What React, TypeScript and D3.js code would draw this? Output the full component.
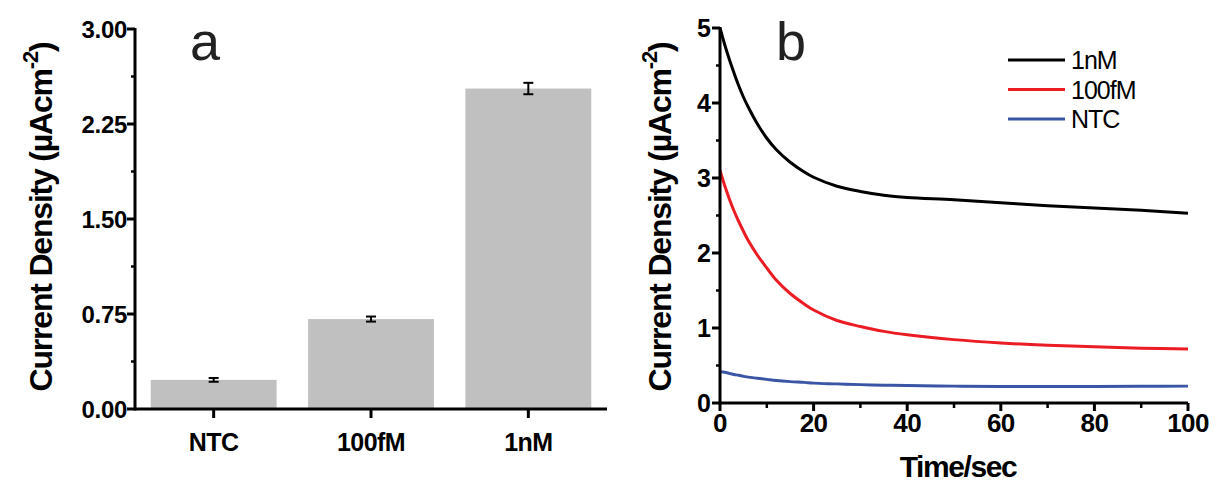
import React, { useRef, useEffect } from 'react';
import * as d3 from 'd3';

// panel a: bar chart
const categories = ['NTC', '100fM', '1nM'];
const barValues = [0.23, 0.71, 2.53];
const barErrors = [0.015, 0.02, 0.045];
const barTicks = [0, 0.75, 1.5, 2.25, 3.0];

// panel b: chronoamperometry curves
const timeSec = [0, 1, 2, 3, 4, 5, 6, 8, 10, 12, 15, 18, 20, 25, 30, 35, 40, 50, 60, 70, 80, 90, 100];
const curve1nM = [5.0, 4.78, 4.58, 4.4, 4.23, 4.08, 3.95, 3.72, 3.53, 3.38, 3.21, 3.08, 3.01, 2.89, 2.82, 2.77, 2.74, 2.71, 2.67, 2.63, 2.6, 2.57, 2.53];
const curve100fM = [3.1, 2.9, 2.72, 2.56, 2.42, 2.29, 2.17, 1.97, 1.8, 1.64, 1.46, 1.32, 1.24, 1.1, 1.02, 0.955, 0.91, 0.845, 0.8, 0.77, 0.75, 0.73, 0.72];
const curveNTC = [0.42, 0.41, 0.395, 0.38, 0.37, 0.355, 0.345, 0.33, 0.315, 0.3, 0.285, 0.275, 0.265, 0.255, 0.245, 0.238, 0.232, 0.225, 0.22, 0.22, 0.22, 0.222, 0.225];
const seriesNames = ['1nM', '100fM', 'NTC'];
const seriesColors = ['#000000', '#ec1c24', '#3a55a5'];

const FONT = '"Liberation Sans", Arial, sans-serif';

export default function App() {
  const svgRef = useRef<SVGSVGElement>(null);

  useEffect(() => {
    const svg = d3.select(svgRef.current);
    svg.selectAll('*').remove();

    svg.append('rect').attr('width', 1214).attr('height', 483).attr('fill', '#fff');

    const yTitle = (g: any, x: number) => {
      const t = g.append('text').attr('transform', `translate(${x},217) rotate(-90)`)
        .attr('text-anchor', 'middle').attr('font-family', FONT).attr('font-weight', 'bold')
        .attr('font-size', 32).attr('letter-spacing', -1.2);
      t.append('tspan').text('Current Density (µAcm');
      t.append('tspan').attr('dy', -14).attr('font-size', 22).text('-2');
      t.append('tspan').attr('dy', 14).text(')');
    };

    // ---------- panel a ----------
    const ax0 = 135, ax1 = 607, ay0 = 409, ay1 = 29;
    const xBand = d3.scaleBand().domain(categories).range([ax0, ax1]).paddingInner(0.2).paddingOuter(0.1);
    const yA = d3.scaleLinear().domain([0, 3]).range([ay0, ay1]);

    const ga = svg.append('g');
    ga.selectAll('rect.bar')
      .data(categories)
      .enter().append('rect')
      .attr('x', d => xBand(d)!)
      .attr('y', (d, i) => yA(barValues[i]))
      .attr('width', xBand.bandwidth())
      .attr('height', (d, i) => yA(0) - yA(barValues[i]))
      .attr('fill', '#c0c0c0');

    // error bars
    categories.forEach((c, i) => {
      const cx = xBand(c)! + xBand.bandwidth() / 2;
      const top = yA(barValues[i] + barErrors[i]);
      const bot = yA(barValues[i] - barErrors[i]);
      ga.append('line').attr('x1', cx).attr('x2', cx).attr('y1', top).attr('y2', bot).attr('stroke', '#000').attr('stroke-width', 2);
      [top, bot].forEach(yy => {
        ga.append('line').attr('x1', cx - 5).attr('x2', cx + 5).attr('y1', yy).attr('y2', yy).attr('stroke', '#000').attr('stroke-width', 2);
      });
    });

    // axes lines
    ga.append('line').attr('x1', ax0).attr('x2', ax0).attr('y1', ay1 - 1).attr('y2', ay0 + 1.5).attr('stroke', '#000').attr('stroke-width', 3);
    ga.append('line').attr('x1', ax0).attr('x2', ax1).attr('y1', ay0).attr('y2', ay0).attr('stroke', '#000').attr('stroke-width', 3);

    // y ticks
    barTicks.forEach(t => {
      ga.append('line').attr('x1', ax0 - 8).attr('x2', ax0).attr('y1', yA(t)).attr('y2', yA(t)).attr('stroke', '#000').attr('stroke-width', 3);
      ga.append('text').attr('x', ax0 - 8).attr('y', yA(t)).attr('dy', '0.36em')
        .attr('text-anchor', 'end').attr('font-family', FONT).attr('font-weight', 'bold')
        .attr('font-size', 24).attr('letter-spacing', -0.3).text(t.toFixed(2));
    });
    d3.range(0.375, 3, 0.75).forEach(t => {
      ga.append('line').attr('x1', ax0 - 4).attr('x2', ax0).attr('y1', yA(t)).attr('y2', yA(t)).attr('stroke', '#000').attr('stroke-width', 2.5);
    });

    // x ticks
    categories.forEach(c => {
      const cx = xBand(c)! + xBand.bandwidth() / 2;
      ga.append('line').attr('x1', cx).attr('x2', cx).attr('y1', ay0).attr('y2', ay0 + 9).attr('stroke', '#000').attr('stroke-width', 3);
      ga.append('text').attr('x', cx).attr('y', 451).attr('text-anchor', 'middle')
        .attr('font-family', FONT).attr('font-weight', 'bold').attr('font-size', 25).attr('letter-spacing', -0.6).text(c);
    });

    yTitle(ga, 52);

    ga.append('text').attr('x', 190).attr('y', 60).attr('font-family', FONT).attr('font-size', 54).attr('fill', '#222').text('a');

    // ---------- panel b ----------
    const bx0 = 720, bx1 = 1188, by0 = 403, by1 = 28;
    const xB = d3.scaleLinear().domain([0, 100]).range([bx0, bx1]);
    const yB = d3.scaleLinear().domain([0, 5]).range([by0, by1]);
    const gb = svg.append('g');

    const line = d3.line<[number, number]>().x(d => xB(d[0])).y(d => yB(d[1])).curve(d3.curveCatmullRom.alpha(0.5));
    [curve1nM, curve100fM, curveNTC].forEach((vals, i) => {
      gb.append('path').datum(timeSec.map((t, j) => [t, vals[j]] as [number, number]))
        .attr('d', line).attr('fill', 'none').attr('stroke', seriesColors[i]).attr('stroke-width', 3);
    });

    gb.append('line').attr('x1', bx0).attr('x2', bx0).attr('y1', by1 - 1).attr('y2', by0 + 1.5).attr('stroke', '#000').attr('stroke-width', 3);
    gb.append('line').attr('x1', bx0).attr('x2', bx1).attr('y1', by0).attr('y2', by0).attr('stroke', '#000').attr('stroke-width', 3);

    d3.range(0, 6).forEach(t => {
      gb.append('line').attr('x1', bx0 - 8).attr('x2', bx0).attr('y1', yB(t)).attr('y2', yB(t)).attr('stroke', '#000').attr('stroke-width', 3);
      gb.append('text').attr('x', bx0 - 9).attr('y', yB(t)).attr('dy', '0.36em')
        .attr('text-anchor', 'end').attr('font-family', FONT).attr('font-weight', 'bold').attr('font-size', 25).text(t);
    });
    d3.range(0.5, 5, 1).forEach(t => {
      gb.append('line').attr('x1', bx0 - 4).attr('x2', bx0).attr('y1', yB(t)).attr('y2', yB(t)).attr('stroke', '#000').attr('stroke-width', 2.5);
    });
    d3.range(0, 101, 20).forEach(t => {
      gb.append('line').attr('x1', xB(t)).attr('x2', xB(t)).attr('y1', by0).attr('y2', by0 + 8).attr('stroke', '#000').attr('stroke-width', 3);
      gb.append('text').attr('x', xB(t)).attr('y', 432).attr('text-anchor', 'middle')
        .attr('font-family', FONT).attr('font-weight', 'bold').attr('font-size', 26).attr('letter-spacing', -0.6).text(t);
    });
    d3.range(10, 100, 20).forEach(t => {
      gb.append('line').attr('x1', xB(t)).attr('x2', xB(t)).attr('y1', by0).attr('y2', by0 + 5).attr('stroke', '#000').attr('stroke-width', 2.5);
    });

    gb.append('text').attr('x', 958).attr('y', 477).attr('text-anchor', 'middle')
      .attr('font-family', FONT).attr('font-weight', 'bold').attr('font-size', 30).attr('letter-spacing', -1.4).text('Time/sec');

    yTitle(gb, 671);

    gb.append('text').attr('x', 776).attr('y', 60).attr('font-family', FONT).attr('font-size', 54).attr('fill', '#222').text('b');

    // legend
    seriesNames.forEach((name, i) => {
      const ly = 60 + i * 29.5;
      gb.append('line').attr('x1', 1008).attr('x2', 1065).attr('y1', ly).attr('y2', ly).attr('stroke', seriesColors[i]).attr('stroke-width', 3);
      gb.append('text').attr('x', 1071).attr('y', ly + 9).attr('font-family', FONT).attr('font-size', 25)
        .attr('letter-spacing', -1).text(name);
    });
  }, []);

  return (
    <svg ref={svgRef} width={1214} height={483}
      style={{ position: 'absolute', left: 0, top: 0, display: 'block' }} />
  );
}
